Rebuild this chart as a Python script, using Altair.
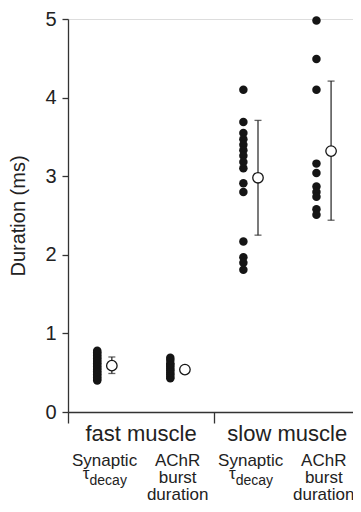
import altair as alt
import pandas as pd

# ---- data ----
fast_syn = [0.40, 0.42, 0.44, 0.46, 0.48, 0.50, 0.52, 0.54, 0.56, 0.58, 0.60,
            0.62, 0.64, 0.66, 0.68, 0.70, 0.72, 0.74, 0.76, 0.78]
fast_achr = [0.43, 0.45, 0.48, 0.50, 0.53, 0.55, 0.58, 0.60, 0.62, 0.66, 0.69]
slow_syn = [4.10, 3.69, 3.55, 3.47, 3.40, 3.33, 3.26, 3.18, 3.10, 2.91, 2.80,
            2.17, 1.97, 1.90, 1.81]
slow_achr = [4.98, 4.49, 4.10, 3.16, 3.04, 2.87, 2.80, 2.74, 2.58, 2.51]

group_pos = [1, 2, 3, 4]
means = [0.59, 0.54, 2.98, 3.32]
err_lo = [0.49, 0.52, 2.25, 2.44]
err_hi = [0.70, 0.56, 3.71, 4.21]

sub_line1 = ["Synaptic", "AChR", "Synaptic", "AChR"]
sub_line2 = ["", "burst", "", "burst"]
sub_line3 = ["", "duration", "", "duration"]
tau_pos = [1, 3]
muscle_labels = ["fast muscle", "slow muscle"]
muscle_pos = [1.5, 3.5]
x_ticks = [0.5, 2.5]
y_ticks = [0, 1, 2, 3, 4, 5]

OFF = 0.1
FONT = "Liberation Sans"

rows = []
for g, vals in zip(group_pos, [fast_syn, fast_achr, slow_syn, slow_achr]):
    for v in vals:
        rows.append({"x": g - OFF, "y": v})
dots_df = pd.DataFrame(rows)

mean_df = pd.DataFrame({"x": [g + OFF for g in group_pos], "m": means,
                        "lo": err_lo, "hi": err_hi})
sub_df = pd.DataFrame({"x": group_pos, "l1": sub_line1, "l2": sub_line2, "l3": sub_line3})
tau_df = pd.DataFrame({"x": tau_pos, "t": ["τ"] * len(tau_pos), "s": ["decay"] * len(tau_pos)})
mus_df = pd.DataFrame({"x": muscle_pos, "t": muscle_labels})

xscale = alt.Scale(domain=[0.5, 4.40], nice=False, zero=False)
yscale = alt.Scale(domain=[0, 5], nice=False)

xax = alt.Axis(values=x_ticks, labels=False, title=None, tickSize=11, grid=False,
               domainColor="#333", tickColor="#333", domainWidth=1.3, tickWidth=1.3)
yax = alt.Axis(values=y_ticks, format="d", title="Duration (ms)", tickSize=6, grid=False,
               domainColor="#333", tickColor="#333", domainWidth=1.3, tickWidth=1.3,
               labelFont=FONT, labelFontSize=20, labelColor="#222", labelPadding=6,
               titleFont=FONT, titleFontSize=20, titleFontWeight="normal",
               titleColor="#222", titlePadding=16)

dots = alt.Chart(dots_df).mark_circle(size=72, color="#151515", opacity=1).encode(
    x=alt.X("x:Q", scale=xscale, axis=xax),
    y=alt.Y("y:Q", scale=yscale, axis=yax),
)

err = alt.Chart(mean_df).mark_rule(color="#222", strokeWidth=1.2).encode(
    x="x:Q", y="lo:Q", y2="hi:Q")
cap_lo = alt.Chart(mean_df).mark_tick(orient="horizontal", size=7, thickness=1.3,
                                      color="#222").encode(x="x:Q", y="lo:Q")
cap_hi = alt.Chart(mean_df).mark_tick(orient="horizontal", size=7, thickness=1.3,
                                      color="#222").encode(x="x:Q", y="hi:Q")
mean_pt = alt.Chart(mean_df).mark_point(shape="circle", size=110, filled=True,
                                        fill="white", stroke="#151515",
                                        strokeWidth=1.3, opacity=1).encode(
    x="x:Q", y="m:Q")

txt_common = dict(font=FONT, color="#222", baseline="alphabetic", align="center")
mus = alt.Chart(mus_df).mark_text(fontSize=22, **txt_common).encode(
    x="x:Q", y=alt.value(422), text="t:N")
l1 = alt.Chart(sub_df).mark_text(fontSize=17, **txt_common).encode(
    x="x:Q", y=alt.value(447), text="l1:N")
l2 = alt.Chart(sub_df).mark_text(fontSize=17, **txt_common).encode(
    x="x:Q", y=alt.value(464), text="l2:N")
l3 = alt.Chart(sub_df).mark_text(fontSize=17, **txt_common).encode(
    x="x:Q", y=alt.value(481), text="l3:N")
tau = alt.Chart(tau_df).mark_text(fontSize=17, font=FONT, color="#222",
                                  baseline="alphabetic", align="right", dx=-15).encode(
    x="x:Q", y=alt.value(460), text="t:N")
sub = alt.Chart(tau_df).mark_text(fontSize=14, font=FONT, color="#222",
                                  baseline="alphabetic", align="left", dx=-15).encode(
    x="x:Q", y=alt.value(466), text="s:N")

chart = alt.layer(dots, err, cap_lo, cap_hi, mean_pt, mus, l1, l2, l3, tau, sub).properties(
    width=285, height=393,
    autosize=alt.AutoSizeParams(type="none"),
    padding={"left": 60, "top": 11, "right": 0, "bottom": 92},
).configure_view(stroke=None).configure(background="white")

chart.save("out.html", embed_options={"renderer": "svg", "actions": False})
